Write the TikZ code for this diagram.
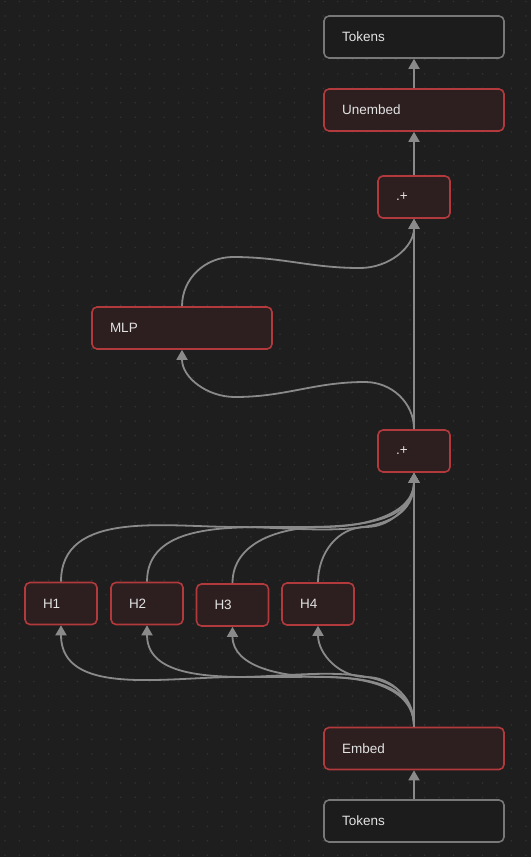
\documentclass[tikz,border=0pt]{standalone}
\usepackage{fontspec}
\setmainfont{Liberation Sans}
\usetikzlibrary{arrows.meta}
\definecolor{canvas}{HTML}{1E1E1E}
\definecolor{dotgrid}{HTML}{313131}
\definecolor{opfill}{HTML}{2D1F20}
\definecolor{opline}{HTML}{B23A3D}
\definecolor{iofill}{HTML}{1C1C1C}
\definecolor{ioline}{HTML}{787878}
\definecolor{wire}{HTML}{8A8A8A}
\definecolor{labeltext}{HTML}{E2E2E2}
\tikzset{
  box/.style={rounded corners=5pt, line width=1.6pt, minimum height=42pt,
    inner xsep=18pt, text=labeltext, font=\fontsize{13.5}{16}\selectfont, align=left},
  wide/.style={box, text width=144pt},
  narrow/.style={box, text width=36pt},
  opbox/.style={draw=opline, fill=opfill},
  iobox/.style={draw=ioline, fill=iofill},
  flow/.style={draw=wire, line width=1.8pt, ->},
}
\begin{document}
\begin{tikzpicture}[>={Triangle[width=11pt,length=10pt]}, x=1pt, y=1pt]
    \fill[canvas] (0,0) rectangle (531,-857);
    \useasboundingbox (0,0) rectangle (531,-857);
    \foreach \x in {0,...,36}
{
    \foreach \y in {0,...,59}
    {
        \fill[dotgrid] (5+14.47*\x, -1.5-14.47*\y) circle (0.9pt);
    }
}
\node[wide, iobox] (tokout) at (414,-37) {Tokens};
\node[wide, opbox] (unembed) at (414,-110) {Unembed};
\node[narrow, opbox] (addhi) at (414,-197) {.+};
\node[wide, opbox] (mlp) at (182,-328) {MLP};
\node[narrow, opbox] (addlo) at (414,-451) {.+};
\foreach \i/\x/\y in {1/61/603.5, 2/147/603.5, 3/232.5/605, 4/318/604}
{
    \node[narrow, opbox] (h\i) at (\x,-\y) {H\i};
}
\node[wide, opbox] (embed) at (414,-748.5) {Embed};
\node[wide, iobox] (tokin) at (414,-821) {Tokens};

\draw[flow] (tokin) -- (embed);
\draw[flow] (embed) -- (addlo);
\foreach \i/\m in {1/237, 2/280, 3/323, 4/366}
{
    \draw[flow] (embed.north) to[out=90, in=0] (\m,-677) to[out=180, in=-90] (h\i.south);
    \draw[flow] (h\i.north) to[out=90, in=180] (\m,-527) to[out=0, in=-90] (addlo.south);
}
\draw[flow] (addlo.north) to[out=90, in=0] (365,-382) to[out=180, in=0] (235,-397) to[out=180, in=-90] (mlp.south);
\draw[flow] (addlo) -- (addhi);
\draw[flow] (mlp.north) to[out=90, in=180] (233,-257) to[out=0, in=180] (360,-268) to[out=0, in=-90] (addhi.south);
\draw[flow] (addhi) -- (unembed);
\draw[flow] (unembed) -- (tokout);
\end{tikzpicture}
\end{document}
